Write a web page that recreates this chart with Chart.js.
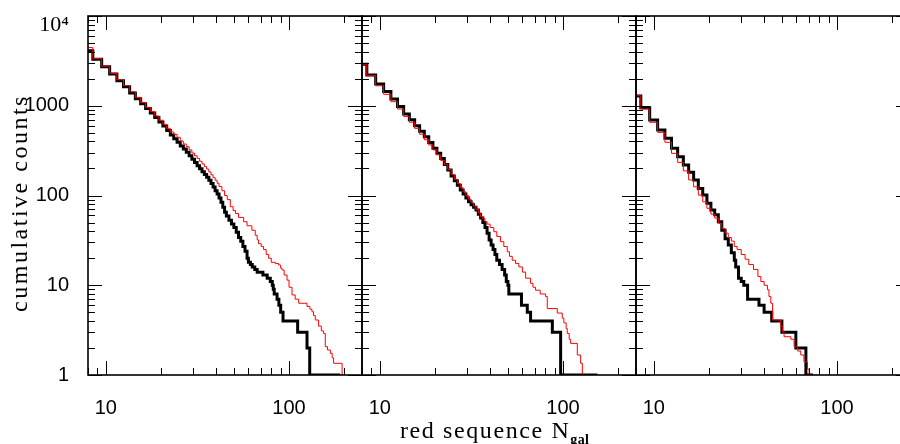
<!DOCTYPE html>
<html><head><meta charset="utf-8">
<script src="https://cdn.jsdelivr.net/npm/chart.js@4/dist/chart.umd.min.js"></script>
<style>
html,body{margin:0;padding:0;background:#fff;overflow:hidden;width:900px;height:444px;}
#wrap{position:relative;width:900px;height:444px;overflow:hidden;background:#fff;}
canvas{position:absolute;left:0;top:0;}
#ytitle{position:absolute;left:-111px;top:188px;width:260px;height:30px;line-height:30px;text-align:center;
  font-family:'Liberation Serif',serif;font-size:24px;letter-spacing:2.5px;white-space:nowrap;transform:rotate(-90deg);color:#000;}
#xtitle{position:absolute;left:400px;top:417px;height:26px;line-height:26px;white-space:nowrap;
  font-family:'Liberation Serif',serif;font-size:24px;letter-spacing:1.6px;color:#000;}
#xtitle sub{font-size:14px;font-weight:bold;letter-spacing:0.3px;vertical-align:-6px;line-height:0;}
</style></head><body>
<div id="wrap">
<canvas id="c1" width="920" height="444"></canvas>
<canvas id="c2" width="920" height="444"></canvas>
<canvas id="c3" width="920" height="444"></canvas>
<div id="ytitle">cumulative counts</div>
<div id="xtitle">red sequence N<sub>gal</sub></div>
</div>
<script>
// ---- axis ranges / ticks ----
const X_MIN = 8, X_MAX = 250;
const Y_MIN = 1, Y_MAX = 10000;
const X_LABEL_VALUES = [10, 100];
const X_LABELS = ['10', '100'];
const Y_LABEL_VALUES = [1, 10, 100, 1000, 10000];
const Y_LABELS = ['1', '10', '100', '1000', '10⁴'];
const X_TICK_VALUES = [8, 9, 10, 20, 30, 40, 50, 60, 70, 80, 90, 100, 200];
const X_MAJOR_TICKS = [10, 100];
const Y_DECADES = [1, 10, 100, 1000];
const Y_MINOR_MULT = [2, 3, 4, 5, 6, 7, 8, 9];
const Y_MAJOR_TICKS = [1, 10, 100, 1000, 10000];

// ---- panel 1 ----
const P1_BLACK_N = [8, 8.5, 9.5, 10.5, 11.5, 12.5, 13.5, 14.5, 15.5, 16.5, 17.5, 18.5, 19.5, 20.5, 21.5, 22.5, 23.5, 24.5, 25.5, 26.5, 27.5, 28.5, 29.5, 30.5, 31.5, 32.5, 33.5, 34.5, 35.5, 36.5, 37.5, 38.5, 39.5, 40.5, 41.5, 42.5, 43.5, 44.5, 45.5, 47, 48.5, 50, 51.5, 53, 54.5, 56, 57.5, 59, 60, 61.5, 63, 65, 67, 72, 76, 79, 81, 82, 83, 86, 88, 90, 92.7, 111.4, 125.3, 129.6, 190];
const P1_BLACK_C = [4100, 3290, 2720, 2260, 1900, 1630, 1390, 1200, 1055, 930, 830, 740, 660, 594, 530, 472, 430, 392, 356, 330, 303, 277, 253, 233, 214, 199, 184, 171, 160, 148, 136, 124, 113, 104, 94, 84, 74, 65, 59, 53, 48, 44, 39, 34, 31, 27, 24, 20, 18, 17, 16, 15, 14, 13, 12, 11, 10, 9, 8, 7, 6, 5, 4, 3, 2, 1, 1];
const P1_RED_N = [8, 8.5, 9.5, 10.5, 11.5, 12.5, 13.5, 14.5, 15.5, 16.5, 17.5, 18.5, 19.5, 20.5, 21.5, 22.5, 23.5, 24.5, 25.5, 26.5, 27.5, 28.5, 29.5, 30.5, 31.5, 32.5, 33.5, 34.5, 35.5, 36.5, 37.5, 38.5, 39.5, 40.5, 41.5, 43, 44.5, 46, 47.8, 49.5, 51, 53, 56.5, 59, 62.7, 65.4, 67, 68.2, 70.5, 72.6, 75, 77.4, 80, 84, 87.7, 90, 91.5, 94, 97.5, 100, 103.8, 108, 112.9, 125.3, 130, 133.3, 136, 139, 145, 150, 154.4, 157.6, 162, 168, 172, 175, 194.7, 197];
const P1_RED_C = [4450, 3350, 2760, 2300, 1950, 1680, 1430, 1240, 1090, 960, 860, 770, 690, 620, 560, 510, 480, 445, 405, 375, 350, 322, 297, 277, 259, 241, 225, 210, 197, 183, 170, 158, 148, 137, 126, 113, 100, 90, 75, 68, 63, 57, 51, 46, 41, 36, 32, 29, 27, 25, 22, 20, 18, 17.5, 16.8, 15.5, 14.8, 13, 11.4, 9.5, 7.8, 7, 6.3, 5.8, 5.4, 5.07, 4.6, 4.1, 3.5, 3.1, 2.9, 2.07, 1.9, 1.74, 1.55, 1.35, 1, 1];

// ---- panel 2 ----
const P2_BLACK_N = [8, 8.5, 9.5, 10.5, 11.5, 12.5, 13.5, 14.5, 15.5, 16.5, 17.5, 18.5, 19.5, 20.5, 21.5, 22.5, 23.5, 24.5, 25.5, 26.5, 27.5, 28.5, 29.5, 30.5, 31.5, 32.5, 33.5, 34.5, 35.5, 36.5, 37.5, 38.5, 39.5, 40.5, 41.5, 42.5, 43.5, 45, 46.5, 48, 49, 50, 50.6, 59.3, 63.8, 66.5, 87.4, 97, 154];
const P2_BLACK_C = [2900, 2200, 1750, 1440, 1190, 980, 810, 700, 600, 520, 450, 390, 336, 295, 258, 222, 192, 165, 146, 130, 115, 104, 94, 85, 79, 74, 69, 62, 56, 50, 44, 38, 32, 28, 25, 22, 19, 17, 15, 13, 11, 10, 8, 6, 5, 4, 3, 1, 1];
const P2_RED_N = [8, 8.5, 9.5, 10.5, 11.5, 12.5, 13.5, 14.5, 15.5, 16.5, 17.5, 18.5, 19.5, 20.5, 21.5, 22.5, 23.5, 24.5, 25.5, 26.5, 27.5, 28.5, 29.5, 30.5, 31.5, 32.5, 33.5, 34.5, 35.5, 36.5, 37.5, 38.5, 40, 41.9, 43.5, 45.6, 47.5, 49.6, 51, 52.8, 55, 57.4, 60, 62.5, 66.5, 68.5, 70.8, 75, 80.3, 82, 93, 99, 101, 104, 105.4, 108, 110, 119.6, 124.7, 127.4, 130];
const P2_RED_C = [2900, 2160, 1670, 1340, 1110, 920, 760, 655, 560, 482, 418, 366, 322, 284, 245, 220, 195, 172, 152, 136, 122, 110, 100, 91, 83, 76, 70, 64, 58, 55, 51, 48, 44, 39.5, 35, 30.6, 27, 23.6, 21, 19, 17.5, 16, 14, 12, 10.5, 9.5, 8.8, 8, 7.5, 5.5, 4.9, 4.3, 3.8, 3.3, 2.9, 2.5, 2.25, 1.67, 1.35, 1, 1];

// ---- panel 3 ----
const P3_BLACK_N = [8, 8.5, 9.5, 10.5, 11.5, 12.5, 13.5, 14.5, 15.5, 16.5, 17.5, 18.5, 19.5, 20.5, 21.5, 22.5, 23.5, 24.5, 25.5, 26.5, 27.5, 28, 29, 30, 31, 32.5, 37.5, 40, 44, 50, 59.6, 67.6, 74];
const P3_BLACK_C = [1285, 950, 694, 537, 434, 336, 271, 219, 181, 149, 120, 101, 82, 69, 61, 51, 41, 33, 28, 23, 19, 16, 12, 11, 10, 7, 6, 5, 4, 3, 2, 1, 1];
const P3_RED_N = [8, 8.5, 9.5, 10.5, 11.5, 12.5, 13.5, 14.5, 15.5, 16.5, 17.5, 18.5, 19.5, 20.5, 21.5, 22.5, 23.5, 24.5, 25.5, 26.5, 27.5, 28.5, 30, 31.5, 33, 35, 37, 38.4, 40, 41.7, 42.5, 43.5, 44.5, 49.3, 50.5, 51.4, 56, 58.3, 61, 63.4, 66, 69, 70.4, 71];
const P3_RED_C = [1292, 920, 654, 505, 392, 295, 234, 188, 149, 125, 101, 85, 72, 62, 56, 49, 43, 38, 34, 31, 27, 25, 22, 19.5, 17, 15, 12.5, 11, 10, 8.9, 7.5, 6.3, 4.1, 3.5, 3, 2.67, 2.5, 2.07, 1.85, 1.67, 1.4, 1.16, 1, 1];

function pts(ns, cs) { return ns.map((n, i) => ({ x: n, y: cs[i] })); }

const frameTicks = {
  id: 'frameTicks',
  afterDraw(chart) {
    const { ctx, chartArea: a } = chart;
    const xs = chart.scales.x, ys = chart.scales.y;
    ctx.save();
    ctx.strokeStyle = '#000';
    ctx.lineWidth = 1;
    ctx.beginPath();
    X_TICK_VALUES.forEach(v => {
      const p = Math.round(xs.getPixelForValue(v)) + 0.5;
      const L = X_MAJOR_TICKS.includes(v) ? 14 : 7;
      ctx.moveTo(p, a.bottom); ctx.lineTo(p, a.bottom - L);
      ctx.moveTo(p, a.top); ctx.lineTo(p, a.top + L);
    });
    const yTicks = [];
    Y_DECADES.forEach(d => Y_MINOR_MULT.forEach(m => yTicks.push([d * m, 7])));
    Y_MAJOR_TICKS.forEach(v => yTicks.push([v, 14]));
    yTicks.forEach(([v, L]) => {
      const p = Math.round(ys.getPixelForValue(v)) + 0.5;
      ctx.moveTo(a.left, p); ctx.lineTo(a.left + L, p);
      ctx.moveTo(a.right, p); ctx.lineTo(a.right - L, p);
    });
    ctx.stroke();
    ctx.lineWidth = 1.6;
    ctx.strokeRect(a.left, a.top, a.right - a.left, a.bottom - a.top);
    ctx.restore();
  }
};

function makePanel(id, left, right, showY, black, red) {
  return new Chart(document.getElementById(id), {
    type: 'line',
    data: {
      datasets: [
        { label: 'red', data: red, borderColor: '#ff0000', borderWidth: 1, stepped: true, pointRadius: 0, fill: false },
        { label: 'black', data: black, borderColor: '#000000', borderWidth: 3, stepped: true, pointRadius: 0, fill: false }
      ]
    },
    options: {
      responsive: false, animation: false, devicePixelRatio: 1,
      layout: { padding: { left: showY ? 0 : left, right: 920 - right, top: 16, bottom: 0 } },
      plugins: { legend: { display: false }, tooltip: { enabled: false } },
      scales: {
        x: {
          type: 'logarithmic', min: X_MIN, max: X_MAX,
          grid: { display: false, drawTicks: false }, border: { display: false },
          afterBuildTicks: s => { s.ticks = X_LABEL_VALUES.map(v => ({ value: v })); },
          afterFit: s => { s.height = 444 - 375; s.paddingLeft = 0; s.paddingRight = 0; },
          ticks: {
            autoSkip: false, maxRotation: 0, padding: 21, color: '#000',
            font: { family: 'Liberation Sans', size: 20 },
            callback: (v) => X_LABELS[X_LABEL_VALUES.indexOf(v)]
          }
        },
        y: {
          type: 'logarithmic', min: Y_MIN, max: Y_MAX, display: showY,
          grid: { display: false, drawTicks: false }, border: { display: false },
          afterBuildTicks: s => { s.ticks = Y_LABEL_VALUES.map(v => ({ value: v })); },
          afterFit: s => { s.width = showY ? left : 0; s.paddingTop = 0; s.paddingBottom = 0; },
          ticks: {
            autoSkip: false, padding: 19, color: '#000',
            font: (c) => (c.tick && c.tick.value === 10000)
              ? { family: 'Liberation Serif', size: 22, lineHeight: 0.85 }
              : { family: 'Liberation Sans', size: 20 },
            callback: (v) => {
              const i = Y_LABEL_VALUES.indexOf(v);
              return v === 10000 ? ['', Y_LABELS[i]] : Y_LABELS[i];
            }
          }
        }
      }
    },
    plugins: [frameTicks]
  });
}

makePanel('c1', 88, 362, true, pts(P1_BLACK_N, P1_BLACK_C), pts(P1_RED_N, P1_RED_C));
makePanel('c2', 362, 636, false, pts(P2_BLACK_N, P2_BLACK_C), pts(P2_RED_N, P2_RED_C));
makePanel('c3', 636, 910, false, pts(P3_BLACK_N, P3_BLACK_C), pts(P3_RED_N, P3_RED_C));
</script>
</body></html>
